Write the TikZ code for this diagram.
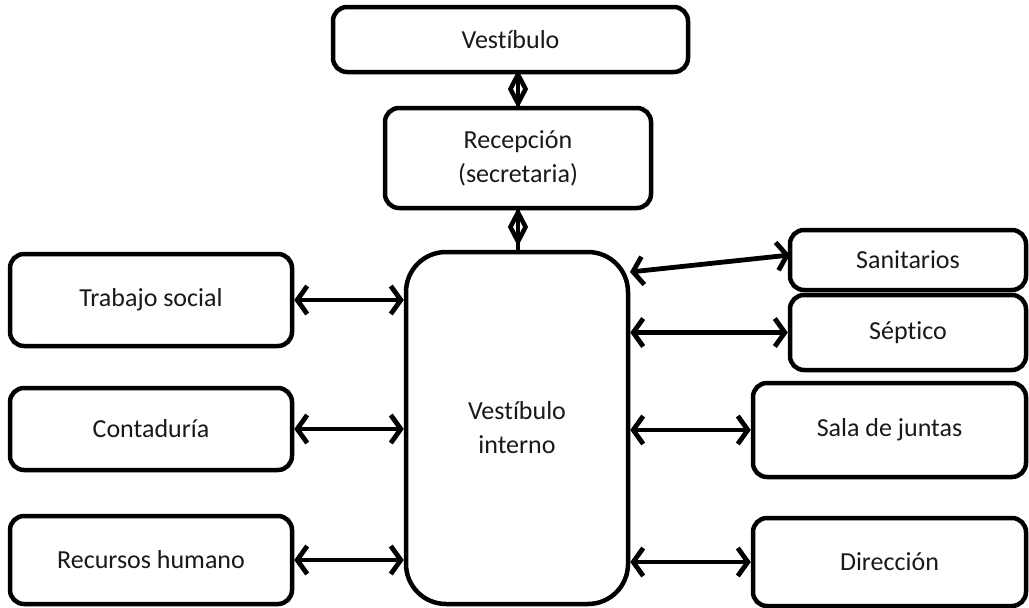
\documentclass[tikz,border=0pt]{standalone}
\usepackage{fontspec}
\setmainfont[Ligatures=NoCommon]{Carlito}
\usetikzlibrary{arrows.meta,shapes.geometric}
\begin{document}
\begin{tikzpicture}[x=1pt,y=-1pt,
  box/.style={draw, line width=4.5pt, rounded corners=14pt, align=center,
    font=\fontsize{26}{34}\selectfont, inner sep=0pt, text=black!90},
  link/.style={line width=4.8pt,
    {Straight Barb[length=10pt,width=28pt]}-{Straight Barb[length=10pt,width=28pt]}},
  dia/.style={draw, diamond, line width=4.5pt, inner sep=0pt, minimum width=17pt, minimum height=31pt},
  vline/.style={line width=4.5pt}]
\useasboundingbox (0,0) rectangle (1029,608);
\fill[white] (0,0) rectangle (1029,608);

\node[box, minimum width=355pt, minimum height=65pt] (vest) at (510.5,39.5) {Vestíbulo};
\node[box, minimum width=266pt, minimum height=100pt] (recep) at (518,158) {Recepción\\(secretaria)};
\node[box, rounded corners=40pt, minimum width=222pt, minimum height=352pt] (interno) at (517,428) {Vestíbulo\\interno};

\node[box, minimum width=282pt, minimum height=92pt] (trab) at (151,300) {Trabajo social};
\node[box, minimum width=282pt, minimum height=82pt] (cont) at (151,429) {Contaduría};
\node[box, minimum width=282pt, minimum height=88pt] (recur) at (151,560) {Recursos humano};

\node[box, minimum width=236pt, minimum height=60pt] (sani) at (908,260) {Sanitarios};
\node[box, minimum width=236pt, minimum height=75pt] (sept) at (908,332.5) {Séptico};
\node[box, minimum width=273pt, minimum height=94pt] (sala) at (889.5,430) {Sala de juntas};
\node[box, minimum width=273pt, minimum height=88pt] (dir) at (889.5,562) {Dirección};

% vertical diamond connectors
\draw[vline] (recep.north |- vest.south) -- (recep.north);
\node[dia] (d1) at (518,89) {};
\draw[vline] (recep.south) -- (recep.south |- interno.north);
\node[dia] (d2) at (518,227) {};

% left arrows
\draw[link] (trab.east) -- (trab.east -| interno.west);
\draw[link] (cont.east) -- (cont.east -| interno.west);
\draw[link] (recur.east) -- (recur.east -| interno.west);

% right arrows
\coordinate (s1) at (630,272);
\coordinate (s2) at (790,255);
\draw[link] (s1) -- (s2);
\draw[link] (sept.west -| interno.east) -- (sept.west);
\draw[link] (sala.west -| interno.east) -- (sala.west);
\draw[link] (dir.west -| interno.east) -- (dir.west);
\end{tikzpicture}
\end{document}
